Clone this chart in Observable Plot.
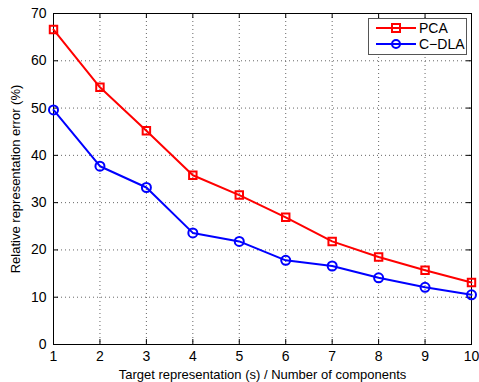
<!DOCTYPE html>
<html><head><meta charset="utf-8">
<script src="https://cdn.jsdelivr.net/npm/d3@7"></script>
<script src="https://cdn.jsdelivr.net/npm/@observablehq/plot@0.6"></script>
<style>
body{margin:0;background:#fff;}
#wrap{position:relative;width:479px;height:382px;}
</style>
</head><body><div id="wrap"></div>
<script>
const components = [1,2,3,4,5,6,7,8,9,10];
const pca  = [66.6,54.4,45.2,35.8,31.6,26.9,21.8,18.5,15.7,13.1];
const cdla = [49.6,37.7,33.2,23.6,21.8,17.8,16.6,14.1,12.1,10.5];
const seriesNames = ["PCA","C\u2212DLA"];
const seriesColors = ["#ff0000","#0000ff"];
const xTicks = [1,2,3,4,5,6,7,8,9,10];
const yTicks = [0,10,20,30,40,50,60,70];

const rows = [];
components.forEach((c,i)=>{
  rows.push({x:c,y:pca[i],s:seriesNames[0]});
  rows.push({x:c,y:cdla[i],s:seriesNames[1]});
});

const W=479,H=382,ml=53,mr=8,mt=13,mb=38;
const xDom=[1,10], yDom=[0,70];
const tickLenX = 5*(yDom[1]-yDom[0])/(H-mt-mb);
const tickLenY = 5*(xDom[1]-xDom[0])/(W-ml-mr);
const font = "'Liberation Sans', Arial, Helvetica, sans-serif";

const chart = Plot.plot({
  width:W, height:H, marginLeft:ml, marginRight:mr, marginTop:mt, marginBottom:mb,
  style:{fontFamily:font, fontSize:"13px", color:"#000", background:"#fff"},
  x:{domain:xDom, ticks:xTicks, label:null},
  y:{domain:yDom, ticks:yTicks, label:null},
  color:{domain:seriesNames, range:seriesColors},
  marks:[
    Plot.ruleX(xTicks.slice(1,-1), {stroke:"#666", strokeDasharray:"1,3", strokeWidth:1}),
    Plot.ruleY(yTicks.slice(1,-1), {stroke:"#666", strokeDasharray:"1,3", strokeWidth:1}),
    Plot.ruleX(xTicks, {y1:yDom[0], y2:yDom[0]+tickLenX, stroke:"#000"}),
    Plot.ruleX(xTicks, {y1:yDom[1]-tickLenX, y2:yDom[1], stroke:"#000"}),
    Plot.ruleY(yTicks, {x1:xDom[0], x2:xDom[0]+tickLenY, stroke:"#000"}),
    Plot.ruleY(yTicks, {x1:xDom[1]-tickLenY, x2:xDom[1], stroke:"#000"}),
    Plot.frame({stroke:"#000", strokeWidth:1}),
    Plot.axisX({ticks:xTicks, tickSize:0, tickPadding:7, fontSize:14, label:null}),
    Plot.axisX({ticks:[], tickSize:0, fontSize:13, label:"Target representation (s) / Number of components", labelAnchor:"center", labelArrow:"none", labelOffset:34}),
    Plot.axisY({ticks:yTicks, tickSize:0, tickPadding:7, fontSize:14, label:null}),
    Plot.axisY({ticks:[], tickSize:0, fontSize:13, label:"Relative representation error (%)", labelAnchor:"center", labelArrow:"none", labelOffset:43}),
    Plot.line(rows, {x:"x", y:"y", z:"s", stroke:"s", strokeWidth:2}),
    Plot.dot(rows.filter(d=>d.s===seriesNames[0]), {x:"x", y:"y", symbol:"square", r:4.2, stroke:seriesColors[0], strokeWidth:2, fill:"none"}),
    Plot.dot(rows.filter(d=>d.s===seriesNames[1]), {x:"x", y:"y", symbol:"circle", r:4.5, stroke:seriesColors[1], strokeWidth:2, fill:"none"})
  ]
});
document.getElementById("wrap").appendChild(chart);

// legend overlay
const lg = d3.select("#wrap").append("svg")
  .attr("width",99).attr("height",37)
  .style("position","absolute").style("left","368px").style("top","18px")
  .style("font-family",font).style("font-size","14px");
lg.append("rect").attr("x",0.5).attr("y",0.5).attr("width",98).attr("height",36)
  .attr("fill","#fff").attr("stroke","#555").attr("stroke-width",1);
seriesNames.forEach((n,i)=>{
  const yy = 10+i*16;
  lg.append("line").attr("x1",8).attr("x2",48).attr("y1",yy).attr("y2",yy)
    .attr("stroke",seriesColors[i]).attr("stroke-width",2);
  if(i===0) lg.append("rect").attr("x",24).attr("y",yy-4).attr("width",8).attr("height",8)
    .attr("fill","none").attr("stroke",seriesColors[i]).attr("stroke-width",2);
  else lg.append("circle").attr("cx",28).attr("cy",yy).attr("r",4)
    .attr("fill","none").attr("stroke",seriesColors[i]).attr("stroke-width",2);
  lg.append("text").attr("x",51).attr("y",yy).attr("dy","0.35em").text(n);
});
</script></body></html>
